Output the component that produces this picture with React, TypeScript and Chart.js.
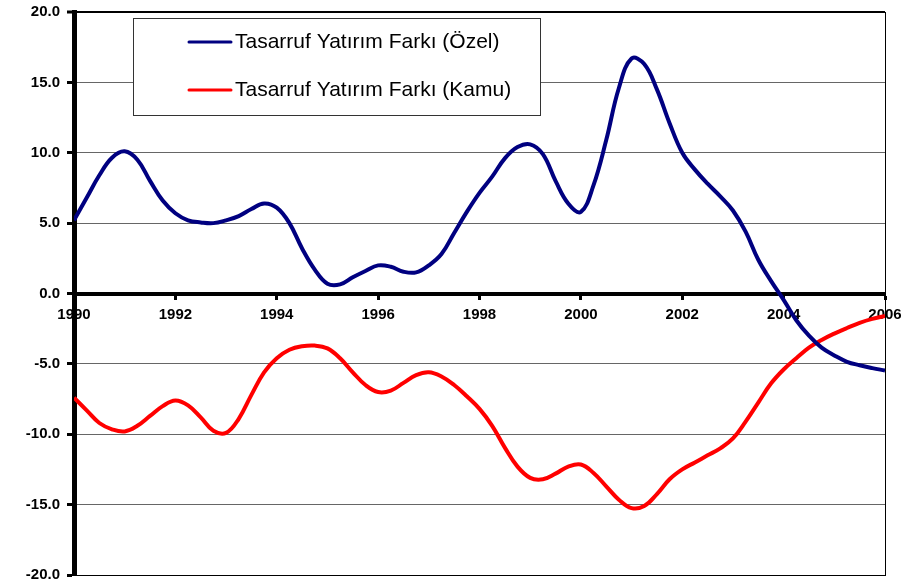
import { useEffect, useRef } from "react";
import { Chart, registerables } from "chart.js";

Chart.register(...registerables);

const quarters = [
  1990, 1990.25, 1990.5, 1990.75, 1991, 1991.25, 1991.5, 1991.75,
  1992, 1992.25, 1992.5, 1992.75, 1993, 1993.25, 1993.5, 1993.75,
  1994, 1994.25, 1994.5, 1994.75, 1995, 1995.25, 1995.5, 1995.75,
  1996, 1996.25, 1996.5, 1996.75, 1997, 1997.25, 1997.5, 1997.75,
  1998, 1998.25, 1998.5, 1998.75, 1999, 1999.25, 1999.5, 1999.75,
  2000, 2000.25, 2000.5, 2000.75, 2001, 2001.25, 2001.5, 2001.75,
  2002, 2002.25, 2002.5, 2002.75, 2003, 2003.25, 2003.5, 2003.75,
  2004, 2004.25, 2004.5, 2004.75, 2005, 2005.25, 2005.5, 2005.75,
  2006,
];

const ozel = [
  5.2, 6.8, 8.4, 9.65, 10.1, 9.5, 8.0, 6.6,
  5.7, 5.2, 5.05, 5.0, 5.2, 5.5, 6.0, 6.4,
  6.1, 5.0, 3.2, 1.7, 0.7, 0.65, 1.15, 1.6,
  2.0, 1.9, 1.55, 1.5, 2.0, 2.8, 4.3, 5.8,
  7.15, 8.3, 9.6, 10.4, 10.6, 9.9, 8.0, 6.4,
  5.8, 7.7, 10.9, 14.6, 16.7, 16.3, 14.5, 12.1,
  10.0, 8.8, 7.8, 6.9, 5.9, 4.4, 2.4, 0.9,
  -0.45, -1.9, -3.0, -3.85, -4.4, -4.85, -5.1, -5.3,
  -5.47,
];

const kamu = [
  -7.4, -8.3, -9.2, -9.65, -9.8, -9.4, -8.7, -8.0,
  -7.6, -7.95, -8.8, -9.75, -9.9, -8.9, -7.2, -5.6,
  -4.6, -4.0, -3.75, -3.7, -3.9, -4.6, -5.6, -6.5,
  -7.0, -6.9, -6.35, -5.8, -5.6, -5.9, -6.5, -7.3,
  -8.2, -9.4, -10.95, -12.3, -13.1, -13.2, -12.8, -12.3,
  -12.15, -12.75, -13.7, -14.65, -15.25, -15.1, -14.25, -13.2,
  -12.5, -12.0, -11.5, -11.0, -10.3, -9.1, -7.75, -6.4,
  -5.4, -4.6, -3.85, -3.3, -2.85, -2.45, -2.08, -1.8,
  -1.6,
];

const seriesLabels = [
  "Tasarruf Yatırım Farkı (Özel)",
  "Tasarruf Yatırım Farkı (Kamu)",
];
const seriesColors = ["#000080", "#FF0000"];

const xMin = 1990;
const xMax = 2006;
const xStep = 2;
const yMin = -20;
const yMax = 20;
const yStep = 5;

const FONT = '"Liberation Sans", Arial, Helvetica, sans-serif';

const boxLegend = {
  id: "boxLegend",
  afterDatasetsDraw(chart: any) {
    const { ctx, chartArea } = chart;
    const left = chartArea.left + 59;
    const top = chartArea.top + 6;
    const w = 407;
    const h = 97;
    ctx.save();
    ctx.fillStyle = "#ffffff";
    ctx.fillRect(left, top, w, h);
    ctx.strokeStyle = "#333333";
    ctx.lineWidth = 1;
    ctx.strokeRect(Math.round(left) + 0.5, Math.round(top) + 0.5, w, h);
    chart.data.datasets.forEach((ds: any, i: number) => {
      const y = top + 24 + i * 48;
      ctx.strokeStyle = ds.borderColor;
      ctx.lineWidth = 3;
      ctx.lineCap = "round";
      ctx.beginPath();
      ctx.moveTo(left + 56, y);
      ctx.lineTo(left + 98, y);
      ctx.stroke();
      ctx.fillStyle = "#000000";
      ctx.font = `21px ${FONT}`;
      ctx.textAlign = "left";
      ctx.textBaseline = "middle";
      ctx.fillText(ds.label, left + 102, y);
    });
    ctx.restore();
  },
};

export default function App() {
  const canvasRef = useRef<HTMLCanvasElement | null>(null);

  useEffect(() => {
    const canvas = canvasRef.current;
    if (!canvas) return;
    const chart = new Chart(canvas, {
      type: "line",
      data: {
        datasets: [
          {
            label: seriesLabels[0],
            data: quarters.map((q, i) => ({ x: q, y: ozel[i] })),
            borderColor: seriesColors[0],
            backgroundColor: seriesColors[0],
            borderWidth: 4,
            pointRadius: 0,
            tension: 0.4,
            fill: false,
          },
          {
            label: seriesLabels[1],
            data: quarters.map((q, i) => ({ x: q, y: kamu[i] })),
            borderColor: seriesColors[1],
            backgroundColor: seriesColors[1],
            borderWidth: 4,
            pointRadius: 0,
            tension: 0.4,
            fill: false,
          },
        ],
      },
      options: {
        responsive: false,
        animation: false,
        layout: { padding: { left: 0, top: 12, right: 28, bottom: 5 } },
        plugins: {
          legend: { display: false },
          tooltip: { enabled: false },
        },
        scales: {
          x: {
            type: "linear",
            min: xMin,
            max: xMax,
            position: { y: 0 },
            afterFit: (s: any) => {
              s.height = 0;
              s.paddingTop = 0;
              s.paddingBottom = 0;
            },
            ticks: {
              stepSize: xStep,
              autoSkip: false,
              maxRotation: 0,
              padding: 8,
              color: "#000",
              font: { family: FONT, size: 15, weight: "bold" },
              callback: (v: any) => String(v),
            },
            grid: {
              display: true,
              drawOnChartArea: false,
              drawTicks: true,
              tickLength: 4,
              tickWidth: 3,
              tickColor: "#000",
            },
            border: { display: true, color: "#000", width: 4 },
          },
          y: {
            type: "linear",
            position: "left",
            min: yMin,
            max: yMax,
            afterFit: (s: any) => {
              s.width = 74;
              s.paddingTop = 0;
              s.paddingBottom = 0;
            },
            ticks: {
              stepSize: yStep,
              padding: 7,
              color: "#000",
              font: { family: FONT, size: 15, weight: "bold" },
              callback: (v: any) => Number(v).toFixed(1),
            },
            grid: {
              color: (c: any) =>
                c.tick && (c.tick.value === yMax || c.tick.value === yMin)
                  ? "#000"
                  : "#666",
              lineWidth: (c: any) =>
                c.tick && c.tick.value === yMax ? 2 : 1,
              tickColor: "#000",
              tickWidth: 3,
              tickLength: 7,
            },
            border: { display: true, color: "#000", width: 5 },
          },
          y2: {
            type: "linear",
            position: "right",
            min: yMin,
            max: yMax,
            afterFit: (s: any) => {
              s.width = 0;
              s.paddingTop = 0;
              s.paddingBottom = 0;
            },
            ticks: { display: false },
            grid: { display: false },
            border: { display: true, color: "#000", width: 1 },
          },
        },
      },
      plugins: [boxLegend],
    });
    return () => chart.destroy();
  }, []);

  return (
    <div style={{ position: "fixed", left: 0, top: 0, width: 913, height: 580, background: "#fff" }}>
      <canvas ref={canvasRef} width={913} height={580} />
    </div>
  );
}
